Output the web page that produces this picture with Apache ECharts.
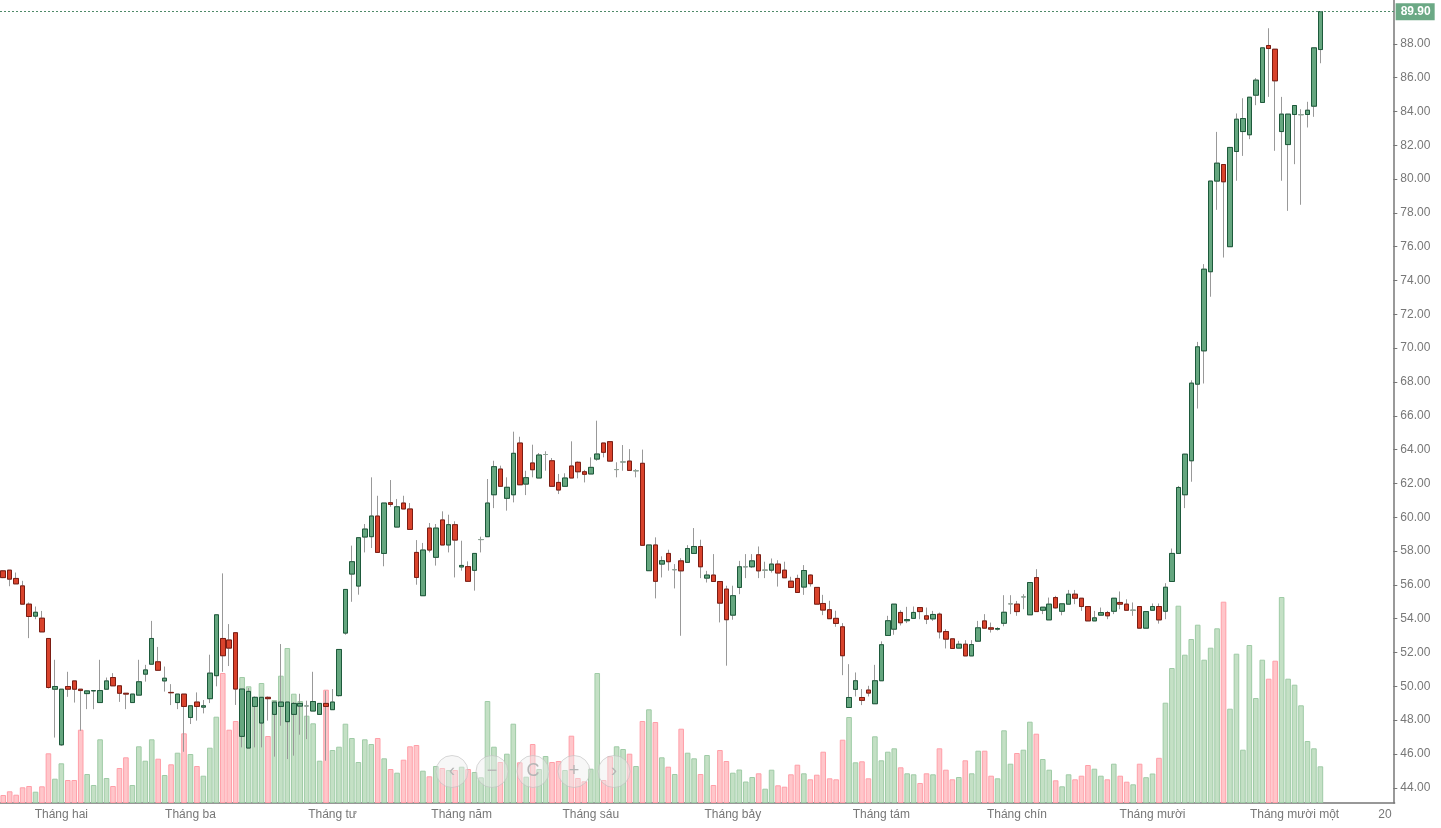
<!DOCTYPE html>
<html>
<head>
<meta charset="utf-8">
<title>Chart</title>
<script src="https://cdn.jsdelivr.net/npm/echarts@6/dist/echarts.min.js"></script>
<style>
html, body { margin: 0; padding: 0; background: #fff; overflow: hidden; }
#chart { width: 1441px; height: 828px; }
</style>
</head>
<body>
<div id="chart"></div>
<script>
var opens = [
	56.83,56.87,56.38,55.94,54.86,54.15,54.03,52.83,49.83,46.54,
	49.99,50.32,49.83,49.57,49.73,49.04,49.83,50.52,50.03,49.59,
	49.04,49.48,50.72,51.31,51.45,50.32,49.64,49.04,49.54,48.16,
	49.07,48.77,49.27,50.63,52.83,52.74,53.17,47.04,46.35,48.81,
	47.83,49.35,48.34,48.81,47.91,48.34,48.83,48.84,48.54,48.34,
	48.99,48.62,49.45,53.15,56.64,55.93,58.83,58.85,60.07,57.86,
	60.86,59.42,60.84,60.49,57.92,55.36,59.36,57.63,59.84,58.36,
	59.56,57.06,57.08,56.86,58.68,58.85,61.33,62.85,61.12,61.33,
	64.39,61.96,63.21,62.32,63.71,63.34,62.06,61.83,63.03,63.25,
	62.69,62.56,63.44,64.39,64.47,62.82,63.27,63.32,62.75,63.19,
	56.84,58.36,57.23,57.86,56.9,57.42,57.33,57.86,58.27,56.4,
	56.58,56.2,55.75,54.21,55.85,57.07,57.07,57.78,56.87,56.87,
	57.23,56.87,56.22,56.38,55.87,56.58,55.85,54.9,54.53,54.02,
	53.52,48.75,49.82,49.34,49.78,48.97,50.33,53.01,53.38,54.37,
	53.88,54.02,54.66,54.17,53.99,54.27,53.24,52.81,52.26,52.49,
	51.8,52.67,53.87,53.46,53.38,53.73,54.88,54.86,55.29,54.23,
	56.43,54.5,53.93,55.25,54.44,54.86,55.45,55.21,54.72,53.87,
	54.21,54.36,54.44,54.96,54.86,54.5,54.72,53.44,54.5,54.72,
	54.44,56.2,57.86,61.33,63.34,67.87,69.84,74.52,79.88,80.86,
	76.0,81.63,82.81,82.62,84.96,84.53,87.9,87.68,82.81,82.04,
	83.82,83.81,83.82,84.31,87.66
];
var closes = [
	56.43,56.34,56.06,54.86,54.13,54.38,53.22,49.93,49.99,49.83,
	49.83,49.83,49.75,49.73,49.75,49.75,50.32,50.03,49.59,49.54,
	49.54,50.27,50.97,52.83,50.95,50.48,49.62,49.54,48.81,48.85,
	48.81,48.85,50.78,54.23,51.81,52.26,49.84,49.84,49.7,49.35,
	49.35,49.27,49.07,49.07,49.07,48.99,48.99,48.84,49.1,48.99,
	48.81,49.07,52.18,55.73,57.37,58.79,59.3,60.07,57.92,60.84,
	60.76,60.62,60.49,59.28,56.44,58.06,58.06,59.36,58.36,59.56,
	58.65,57.15,56.21,57.86,58.68,60.84,62.99,61.83,61.77,63.78,
	61.92,62.34,62.81,63.68,63.71,61.83,61.61,62.32,62.32,62.69,
	62.54,62.95,63.74,63.84,63.32,62.82,63.27,62.77,62.75,58.34,
	58.36,56.21,57.43,57.37,56.9,56.83,58.15,58.27,57.07,56.58,
	56.2,54.92,53.94,55.36,57.07,57.07,57.42,56.83,56.87,57.23,
	56.7,56.42,55.85,55.55,56.85,56.07,54.86,54.51,54.0,53.72,
	51.81,49.34,50.33,49.17,49.6,50.33,52.46,53.88,54.86,53.76,
	53.95,54.37,54.42,53.97,54.25,53.22,52.79,52.24,52.49,51.8,
	52.47,53.46,53.44,53.38,53.42,54.38,54.88,54.42,55.29,56.14,
	54.42,54.68,54.86,54.64,54.88,55.45,55.21,54.72,53.87,54.05,
	54.36,54.17,55.21,54.86,54.5,54.5,53.44,54.42,54.72,53.93,
	55.86,57.86,61.76,63.73,67.93,70.08,74.67,79.88,80.94,79.84,
	81.87,83.54,83.58,84.84,85.85,87.76,87.72,85.81,83.84,83.84,
	84.35,83.81,84.07,87.76,89.9
];
var lows = [
	56.4,55.92,56.06,54.86,52.85,53.97,53.22,49.87,46.97,46.48,
	49.38,49.04,47.37,48.65,48.65,49.04,49.83,50.03,49.08,48.65,
	49.04,49.48,50.28,51.31,50.95,49.69,48.89,48.65,46.13,47.77,
	47.97,48.4,49.01,50.0,50.86,51.2,48.9,46.39,46.35,46.39,
	46.39,47.97,45.84,47.67,45.7,45.9,47.14,46.88,48.54,48.34,
	45.6,48.62,49.4,53.05,55.0,55.42,57.92,58.18,57.92,57.1,
	60.62,59.42,60.49,59.28,56.01,55.36,57.92,57.14,58.36,57.92,
	56.44,56.84,56.21,55.66,57.92,58.85,60.54,61.83,60.39,60.88,
	61.92,61.31,62.36,62.32,62.75,61.83,61.37,61.83,62.32,62.3,
	62.06,62.56,63.34,63.54,63.3,62.36,62.75,62.77,62.36,58.34,
	56.84,55.2,56.44,56.84,55.79,52.99,57.33,57.86,56.4,56.14,
	56.2,53.78,51.22,53.94,55.45,56.4,57.0,56.4,56.4,56.73,
	55.9,56.42,55.85,55.55,55.41,55.9,54.86,54.21,54.0,53.52,
	50.66,48.75,49.4,48.89,49.4,48.97,50.33,53.01,53.05,53.6,
	53.74,54.02,53.97,53.68,53.87,52.83,52.24,52.24,52.26,51.8,
	51.8,52.67,53.44,53.18,53.3,53.55,54.27,54.17,54.56,54.23,
	54.42,54.27,53.93,54.6,54.2,54.86,54.86,54.46,53.87,53.87,
	54.21,53.97,54.27,54.56,54.5,54.17,53.44,53.44,54.5,53.71,
	53.97,56.2,57.86,60.54,62.1,66.43,67.91,73.04,78.18,75.36,
	76.0,79.9,81.37,82.36,84.37,84.53,84.86,81.67,79.9,78.12,
	80.88,78.48,83.05,83.68,86.85
];
var highs = [
	56.85,56.87,56.73,56.24,54.96,54.72,54.46,52.83,51.57,49.83,
	50.86,50.32,49.83,49.75,49.75,51.57,50.52,50.78,50.03,49.6,
	49.54,51.57,51.27,53.87,52.33,51.17,50.13,49.54,49.54,48.85,
	49.64,49.19,51.87,54.23,56.68,53.68,53.17,49.84,49.9,49.4,
	49.35,49.4,49.07,52.5,49.07,49.07,49.56,49.15,50.86,48.99,
	49.74,49.84,52.18,55.73,58.32,58.79,59.6,62.36,61.27,60.84,
	62.2,61.08,61.27,60.84,58.65,58.48,59.66,59.6,60.35,60.15,
	59.76,58.61,57.39,57.86,58.85,62.26,63.34,63.05,62.36,65.06,
	64.76,62.75,64.29,63.8,63.9,63.5,62.56,62.6,64.49,63.3,
	62.8,63.54,65.71,64.39,64.5,63.25,64.27,64.03,62.85,64.0,
	58.36,58.81,57.69,58.08,57.23,57.58,58.35,59.36,58.67,56.83,
	57.82,56.2,55.95,55.95,57.42,57.82,57.82,58.27,57.37,57.56,
	57.46,57.37,56.48,56.6,57.17,56.62,55.85,55.41,55.06,54.47,
	53.74,51.31,50.82,49.84,50.03,51.27,52.66,54.17,54.86,54.5,
	54.7,54.72,54.68,54.66,54.46,54.36,53.38,52.81,52.69,52.73,
	52.73,53.87,54.27,53.77,53.5,55.39,55.39,55.05,55.45,56.14,
	56.93,54.68,55.25,55.35,54.88,55.7,55.7,55.21,54.72,54.46,
	54.66,54.46,55.21,55.61,55.15,54.96,54.72,54.42,54.9,54.9,
	56.1,58.15,61.85,63.75,68.1,70.37,74.97,79.88,82.79,80.86,
	81.9,83.88,84.78,84.84,85.97,87.76,88.92,87.68,84.86,83.84,
	84.35,84.13,84.57,87.76,89.9
];
// relative volume, the reference has no scale for it
var volumes = [
	8,11.7,8.3,15.7,17,11.3,16.7,49.7,24.3,39.7,
	23,23,73.3,29,18,63.7,25,17,35,45.7,
	18,56.7,42.3,63.7,44.3,28,38.7,50.3,69.7,49,
	37,27.3,55.3,86.3,130,73.3,82,126,116.7,105.7,
	120,67,103,127.3,155,109.3,102,87.3,79.7,42.3,
	113.3,53,56.3,79.3,65,41,63.7,59,65,44.7,
	34,30.3,43.3,56.7,58,32.3,26.7,37,35,33,
	33,36.3,34,31,25.7,102,56.3,41,49.3,79.3,
	40.7,26.3,59,34,47,41,42,33,67.3,25,
	21.7,34.3,130,23,46.7,56.7,54,49.3,37,82,
	93.7,81,45.7,36.3,29,74.3,50.3,44.7,29,48,
	18,53,42,30.3,33.5,21.5,26,29.7,14.3,33.3,
	17.7,16.3,28.7,38.3,29.7,23.7,28.3,51.3,24.7,23.7,
	63.3,86,40.7,41.7,24.7,66.7,42.7,51.3,54.7,35.7,
	29.7,28.7,20,29.7,28.7,54.7,33.3,23.7,26,42.7,
	29.7,52.3,52.3,27.3,24.7,72.7,39.3,50,53.3,81.3,
	69.3,44,33.3,22.7,16.7,28.7,23.7,27.3,38,34.3,
	27.3,23.7,39.3,27.3,21.3,18.7,39.3,25.8,29.5,45.2,
	100.3,135,197.3,148.3,164,178.3,143.3,155.3,174.7,201.3,
	94.3,149.3,53.3,158,105,143.3,124.3,142.3,206,124.3,
	118.3,97.7,62,54.7,36.7
];
var monthIndexes = [9, 29, 51, 71, 91, 113, 136, 157, 178, 200, 214];
var monthNames = ['Tháng hai', 'Tháng ba', 'Tháng tư', 'Tháng năm', 'Tháng sáu', 'Tháng bảy',
	'Tháng tám', 'Tháng chín', 'Tháng mười', 'Tháng mười một', '20'];
var priceTicks = [44, 46, 48, 50, 52, 54, 56, 58, 60, 62, 64, 66, 68, 70, 72, 74, 76, 78, 80, 82, 84, 86, 88];
var lastPrice = 89.9;
var slotCount = 216;

var days = [];
for (var i = 0; i < slotCount; i++) {
	days.push('d' + i);
}
var wickData = [];
var bodyData = [];
for (var j = 0; j < opens.length; j++) {
	wickData.push([opens[j], closes[j], lows[j], highs[j]]);
	bodyData.push([opens[j], closes[j], Math.min(opens[j], closes[j]), Math.max(opens[j], closes[j])]);
}

var GREY = '#777777';

// zoom buttons sitting over the volume bars
var buttonGlyphs = ['‹', '−', 'C', '+', '›'];
var buttonX = [452, 492, 533, 574, 614];
var buttons = [];
buttonGlyphs.forEach(function(glyph, k) {
	buttons.push({
		type : 'circle',
		z : 100,
		silent : true,
		shape : { cx : buttonX[k], cy : 771.5, r : 16 },
		style : { fill : 'rgba(238,238,238,0.45)', stroke : 'rgba(190,190,190,0.6)', lineWidth : 1 }
	});
	buttons.push({
		type : 'text',
		z : 101,
		silent : true,
		x : buttonX[k],
		y : 771.5,
		style : {
			text : glyph,
			fill : '#b5b5b5',
			font : '18px "Liberation Sans"',
			align : 'center',
			verticalAlign : 'middle'
		}
	});
});

var chart = echarts.init(document.getElementById('chart'), null, { renderer : 'canvas' });
var option = {
	animation : false,
	backgroundColor : '#ffffff',
	textStyle : { fontFamily : '"Liberation Sans", Arial, sans-serif' },
	grid : { left : -5.04, top : 0, width : 1399.68, height : 803 },
	xAxis : {
		type : 'category',
		data : days,
		boundaryGap : true,
		axisLine : { lineStyle : { color : GREY, width : 1.5 } },
		axisTick : {
			alignWithLabel : true,
			length : 4,
			lineStyle : { color : GREY },
			interval : function(index) {
				return monthIndexes.indexOf(index) >= 0;
			}
		},
		axisLabel : {
			color : GREY,
			fontSize : 12,
			margin : 6,
			hideOverlap : false,
			interval : function(index) {
				return monthIndexes.indexOf(index) >= 0;
			},
			formatter : function(value, index) {
				return monthNames[monthIndexes.indexOf(index)] || '';
			}
		},
		splitLine : { show : false }
	},
	yAxis : [ {
		type : 'value',
		position : 'right',
		offset : -1.3,
		min : 43.10,
		max : 90.59,
		axisLine : { show : true, lineStyle : { color : GREY, width : 1.5 } },
		axisTick : { show : true, length : 4, customValues : priceTicks, lineStyle : { color : GREY } },
		axisLabel : {
			color : GREY,
			fontSize : 12,
			margin : 7,
			padding : [0, 0, 3, 0],
			customValues : priceTicks,
			formatter : function(v) {
				return v.toFixed(2);
			}
		},
		splitLine : { show : false }
	}, {
		type : 'value',
		show : false,
		min : 0,
		max : 803,
		splitLine : { show : false }
	} ],
	series : [ {
		name : 'Volume',
		type : 'bar',
		yAxisIndex : 1,
		z : 1,
		barWidth : 5.6,
		data : volumes.map(function(v, k) {
			var up = closes[k] >= opens[k];
			return {
				value : v,
				itemStyle : {
					color : up ? '#c4e0c5' : '#ffc6ca',
					borderColor : up ? '#9fcba6' : '#ff9fa8',
					borderWidth : 1
				}
			};
		})
	}, {
		name : 'Wick',
		type : 'candlestick',
		z : 3,
		barWidth : 5,
		itemStyle : {
			color : '#999999',
			color0 : '#999999',
			borderColor : '#999999',
			borderColor0 : '#999999',
			borderColorDoji : '#999999',
			borderWidth : 1
		},
		data : wickData
	}, {
		name : 'Price',
		type : 'candlestick',
		z : 4,
		barWidth : 5,
		itemStyle : {
			color : '#65a67f',
			color0 : '#d9432c',
			borderColor : '#1d5a3b',
			borderColor0 : '#7c1c12',
			borderColorDoji : '#8fa597',
			borderWidth : 1
		},
		markLine : {
			silent : true,
			symbol : 'none',
			animation : false,
			lineStyle : { color : '#4f8a69', type : [2, 2], width : 1 },
			label : {
				show : true,
				position : 'end',
				distance : 1,
				formatter : function(p) {
					return p.value.toFixed(2);
				},
				color : '#ffffff',
				fontSize : 12,
				fontWeight : 'bold',
				backgroundColor : '#6ba985',
				padding : [3, 4, 2, 5]
			},
			data : [ { yAxis : lastPrice } ]
		},
		data : bodyData
	} ],
	graphic : buttons
};
chart.setOption(option);
$ = null;
</script>
</body>
</html>
